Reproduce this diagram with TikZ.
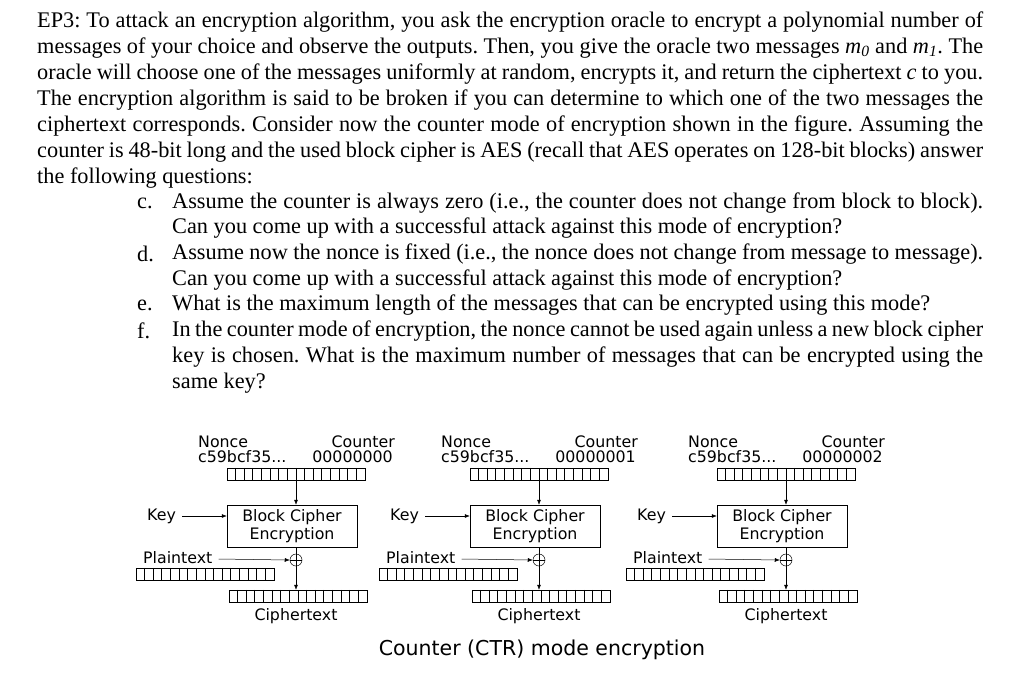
\documentclass[tikz,border=0pt]{standalone}
\usepackage{fontspec}
\setmainfont{Liberation Serif}
\newfontfamily\djfont{DejaVu Sans}
\usetikzlibrary{arrows.meta}
\begin{document}
\frenchspacing
\begin{tikzpicture}[x=1pt,y=-1pt,
  tl/.style={anchor=west,inner sep=0pt,font=\fontsize{22.3}{24}\selectfont},
  dl/.style={inner sep=0pt,font=\djfont\fontsize{15.8}{17.5}\selectfont},
  arr/.style={-{Latex[length=5pt,width=4pt]},line width=0.5pt},
  reg/.style={draw,line width=0.5pt,minimum width=138pt,minimum height=12pt,inner sep=0pt},
  bc/.style={draw,line width=0.5pt,minimum width=130pt,minimum height=42pt,align=center,dl}]
\useasboundingbox (0,0) rectangle (1024,673);
\newcommand{\jl}[1]{\makebox[946pt][s]{#1}}
\newcommand{\jm}[1]{\makebox[811pt][s]{#1}}
\node[tl] (l1) at (37,22) {\jl{EP3: To attack an encryption algorithm, you ask the encryption oracle to encrypt a polynomial number of}};
\node[tl] (l2) at (37,48) {\jl{messages of your choice and observe the outputs. Then, you give the oracle two messages \textit{m\textsubscript{0}} and \textit{m\textsubscript{1}}. The}};
\node[tl] (l3) at (37,74) {\jl{oracle will choose one of the messages uniformly at random, encrypts it, and return the ciphertext \textit{c} to you.}};
\node[tl] (l4) at (37,100) {\jl{The encryption algorithm is said to be broken if you can determine to which one of the two messages the}};
\node[tl] (l5) at (37,126) {\jl{ciphertext corresponds. Consider now the counter mode of encryption shown in the figure. Assuming the}};
\node[tl] (l6) at (37,152) {\jl{counter is 48-bit long and the used block cipher is AES (recall that AES operates on 128-bit blocks) answer}};
\node[tl] (l7) at (37,178) {the following questions:};
\node[tl] (c) at (137,203) {c.};
\node[tl] (c1) at (172,203) {\jm{Assume the counter is always zero (i.e., the counter does not change from block to block).}};
\node[tl] (c2) at (172,228) {Can you come up with a successful attack against this mode of encryption?};
\node[tl] (d) at (137,254) {d.};
\node[tl] (d1) at (172,254) {\jm{Assume now the nonce is fixed (i.e., the nonce does not change from message to message).}};
\node[tl] (d2) at (172,280) {Can you come up with a successful attack against this mode of encryption?};
\node[tl] (e) at (137,305) {e.};
\node[tl] (e1) at (172,305) {What is the maximum length of the messages that can be encrypted using this mode?};
\node[tl] (f) at (137,331) {f.};
\node[tl] (f1) at (172,331) {\jm{In the counter mode of encryption, the nonce cannot be used again unless a new block cipher}};
\node[tl] (f2) at (172,357) {\jm{key is chosen. What is the maximum number of messages that can be encrypted using the}};
\node[tl] (f3) at (172,383) {same key?};
\foreach \i/\dx/\cnt in {1/0/00000000,2/243/00000001,3/490/00000002}{
\begin{scope}[xshift=\dx]
\node[dl,anchor=west] (n\i) at (198,442) {Nonce};
\node[dl,anchor=west] (nv\i) at (198,457) {c59bcf35...};
\node[dl,anchor=east] (ct\i) at (395,442) {Counter};
\node[dl,anchor=east] (cv\i) at (393,457) {\cnt};
\node[reg] (r\i) at (296,474) {};
\foreach \k in {1,...,15}{\draw[line width=0.4pt] ([xshift=\k*138/16]r\i.north west) -- ([xshift=\k*138/16]r\i.south west);}
\node[bc] (b\i) at (292,526) {Block Cipher\\Encryption};
\node[dl,anchor=west] (k\i) at (147,516) {Key};
\draw[arr] ([xshift=6pt]k\i.east) -- (b\i.west |- k\i);
\node (xo\i) at (296,560) [draw,line width=0.5pt,circle,minimum size=12pt,inner sep=0pt] {};
\draw[arr] (r\i.south -| xo\i) -- (b\i.north -| xo\i);
\draw[line width=0.5pt] (xo\i.north) -- (xo\i.south) (xo\i.west) -- (xo\i.east);
\node[dl,anchor=west] (p\i) at (143,558) {Plaintext};
\draw[arr] ([xshift=6pt,yshift=-1pt]p\i.east) -- (xo\i.west);
\node[reg] (pr\i) at (205,574) {};
\foreach \k in {1,...,15}{\draw[line width=0.4pt] ([xshift=\k*138/16]pr\i.north west) -- ([xshift=\k*138/16]pr\i.south west);}
\node[reg] (cr\i) at (298,596) {};
\foreach \k in {1,...,15}{\draw[line width=0.4pt] ([xshift=\k*138/16]cr\i.north west) -- ([xshift=\k*138/16]cr\i.south west);}
\draw[arr] (xo\i.south) -- (xo\i.south |- cr\i.north);
\node[dl] (cl\i) at (296,616) {Ciphertext};
\end{scope}}
\draw[line width=0.5pt] (b1.south -| xo1) -- (xo1.north);
\draw[line width=0.5pt] (b2.south -| xo2) -- (xo2.north);
\draw[line width=0.5pt] (b3.south -| xo3) -- (xo3.north);
\node[dl,font=\djfont\fontsize{20.5}{22}\selectfont] (cap) at (542,650) {Counter (CTR) mode encryption};
\end{tikzpicture}
\end{document}
